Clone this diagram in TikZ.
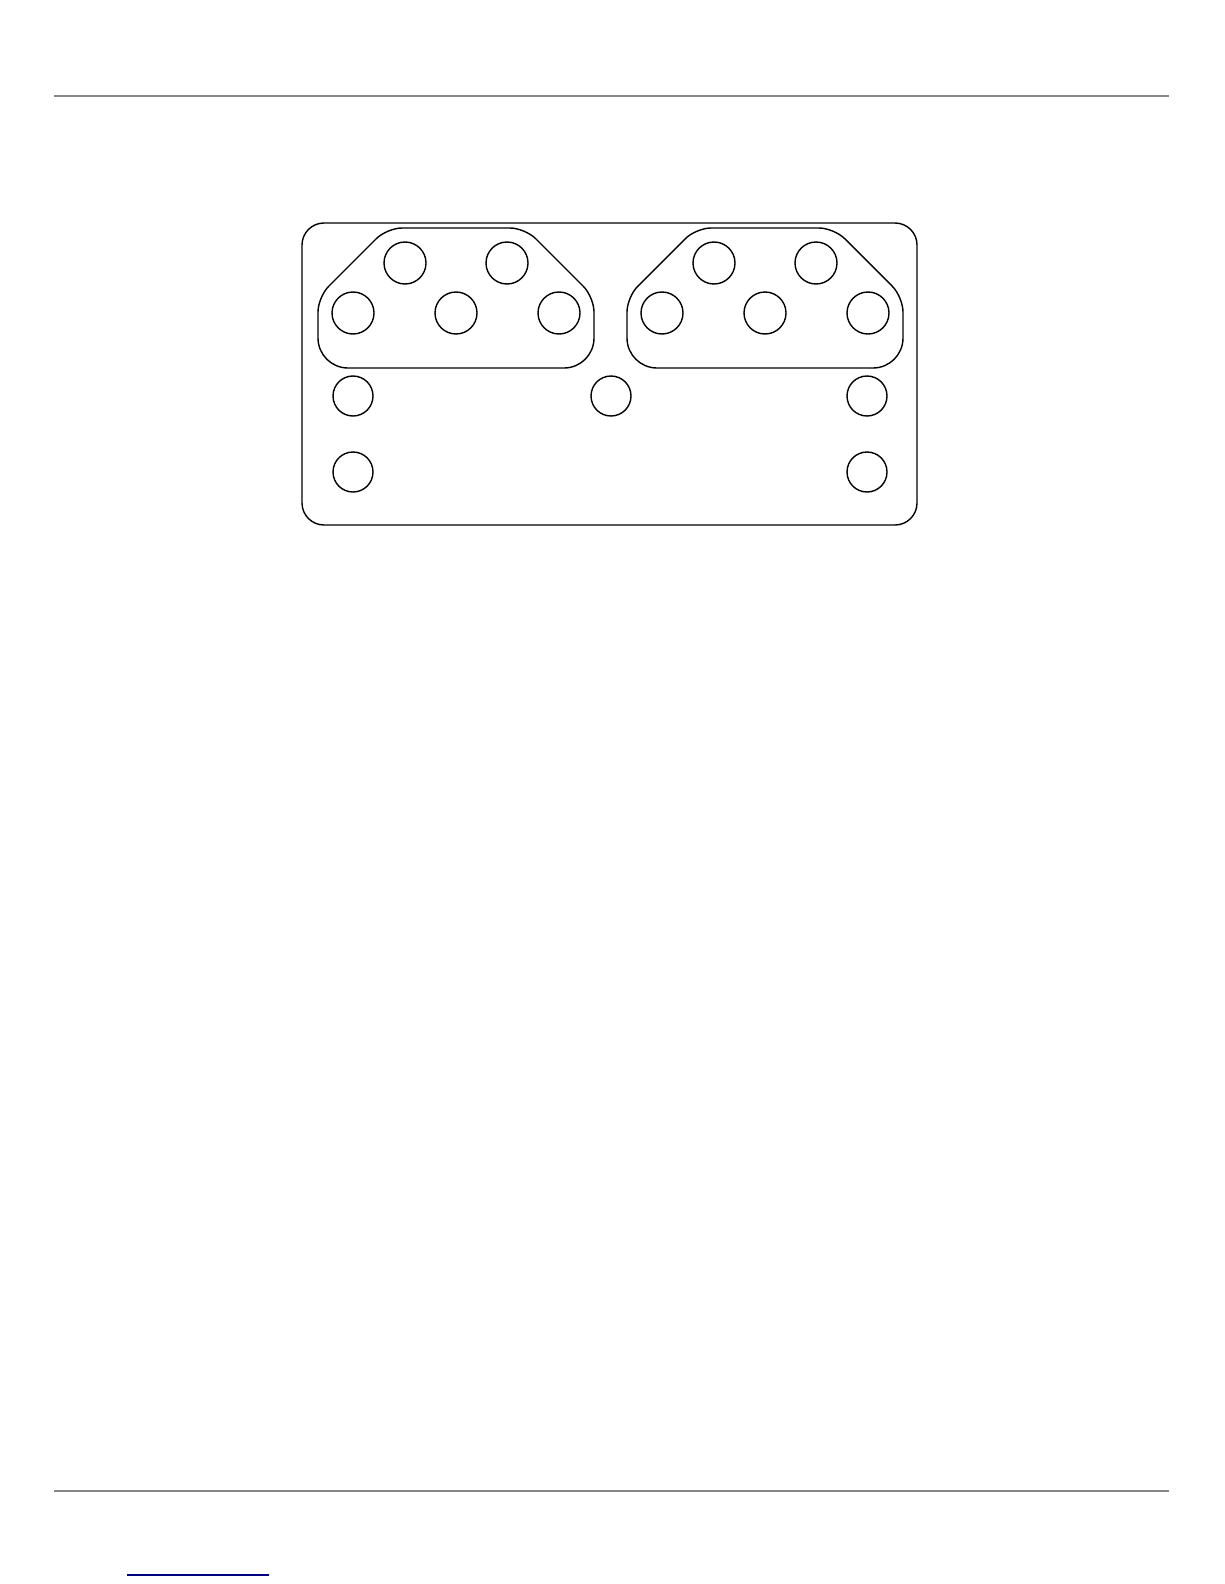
\documentclass[tikz,border=0pt]{standalone}
\begin{document}
\begin{tikzpicture}[x=1pt,y=-1pt,
  rule/.style={draw=black!47,line width=2.2pt},
  plate/.style={draw=black,line width=1.4pt},
  hole/.style={circle,draw=black,line width=1.4pt,inner sep=0pt,minimum size=42pt},
  smallhole/.style={hole,minimum size=40pt}]
\useasboundingbox (0,0) rectangle (1224,1584);
% header / footer rules
\coordinate (hl) at (54,96); \coordinate (hr) at (1169,96);
\coordinate (fl) at (54,1491); \coordinate (fr) at (1169,1491);
\draw[rule] (hl) -- (hr);
\draw[rule] (fl) -- (fr);
\coordinate (ul) at (127,1575); \coordinate (ur) at (269,1575);
\draw[draw=blue!50!black,line width=1.2pt] (ul) -- (ur);
% outer plate
\draw[plate,rounded corners=22] (302,223) rectangle (917,525);
% left group outline
\draw[plate] (456,368) [rounded corners=30] -- (318,368) [rounded corners=15] -- (318,297) -- (387,228) -- (525,228) -- (594,297) [rounded corners=30] -- (594,368) -- cycle;
% right group outline
\begin{scope}[xshift=309pt]
\draw[plate] (456,368) [rounded corners=30] -- (318,368) [rounded corners=15] -- (318,297) -- (387,228) -- (525,228) -- (594,297) [rounded corners=30] -- (594,368) -- cycle;
\end{scope}
% holes left group
\node[hole] (a1) at (405,263) {};
\node[hole] (a2) at (507,263) {};
\node[hole] (a3) at (353,313) {};
\node[hole] (a4) at (456,313) {};
\node[hole] (a5) at (559,313) {};
% holes right group
\node[hole] (b1) at (714,263) {};
\node[hole] (b2) at (816,263) {};
\node[hole] (b3) at (662,313) {};
\node[hole] (b4) at (765,313) {};
\node[hole] (b5) at (868,313) {};
% lower holes
\node[smallhole] (c1) at (353,396) {};
\node[smallhole] (c2) at (611,396) {};
\node[smallhole] (c3) at (867,396) {};
\node[smallhole] (c4) at (353,472) {};
\node[smallhole] (c5) at (867,472) {};
\end{tikzpicture}
\end{document}
